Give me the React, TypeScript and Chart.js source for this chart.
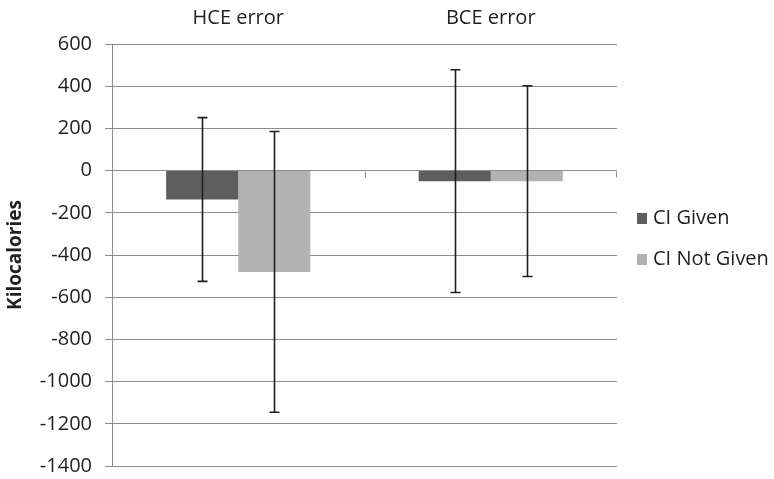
import React, { useEffect, useRef } from "react";
import { Chart, registerables } from "chart.js";

Chart.register(...registerables);

// Categories and series
const categories = ["HCE error", "BCE error"];
const seriesNames = ["CI Given", "CI Not Given"];
const ciGiven = [-137, -50];
const ciNotGiven = [-480, -50];
// Half-widths of the error bars (kcal)
const ciGivenError = [388, 528];
const ciNotGivenError = [665, 452];
const yMin = -1400;
const yMax = 600;
const yStep = 200;

const FONT = '"Open Sans", sans-serif';
const TEXT = "#1f1f1f";
const GRID = "#8c8c8c";
const COLORS = ["#5e5e5e", "#b2b2b2"];

const errorBarsPlugin = {
  id: "errorBars",
  afterDatasetsDraw(chart: any) {
    const { ctx, scales } = chart;
    const y = scales.y;
    const errs = [ciGivenError, ciNotGivenError];
    ctx.save();
    ctx.strokeStyle = "#1e1e1e";
    ctx.lineWidth = 1.6;
    chart.data.datasets.forEach((ds: any, di: number) => {
      const meta = chart.getDatasetMeta(di);
      meta.data.forEach((el: any, i: number) => {
        const v = ds.data[i];
        const e = errs[di][i];
        const top = y.getPixelForValue(v + e);
        const bot = y.getPixelForValue(v - e);
        const x = Math.round(el.x) + 0.5;
        ctx.beginPath();
        ctx.moveTo(x, top);
        ctx.lineTo(x, bot);
        ctx.moveTo(x - 5, top);
        ctx.lineTo(x + 5, top);
        ctx.moveTo(x - 5, bot);
        ctx.lineTo(x + 5, bot);
        ctx.stroke();
      });
    });
    ctx.restore();
  },
  afterDraw(chart: any) {
    const { ctx, scales, chartArea } = chart;
    const x = scales.x;
    const y0 = Math.round(scales.y.getPixelForValue(0)) + 0.5;
    ctx.save();
    // category boundary ticks along the zero line
    ctx.strokeStyle = GRID;
    ctx.lineWidth = 1;
    ctx.beginPath();
    for (let i = 1; i <= categories.length; i++) {
      const px =
        i < categories.length
          ? Math.round((x.getPixelForValue(i - 1) + x.getPixelForValue(i)) / 2) + 0.5
          : Math.round(chartArea.right) - 0.5;
      ctx.moveTo(px, y0);
      ctx.lineTo(px, y0 + 6);
    }
    ctx.stroke();

    // legend
    ctx.font = `20px ${FONT}`;
    ctx.textBaseline = "middle";
    ctx.textAlign = "left";
    const lx = chartArea.right + 20;
    const rows = [218.5, 259.5];
    chart.data.datasets.forEach((ds: any, i: number) => {
      ctx.fillStyle = ds.backgroundColor;
      ctx.fillRect(lx, rows[i] - 5.5, 10, 11);
      ctx.fillStyle = TEXT;
      ctx.fillText(ds.label, lx + 16, rows[i]);
    });
    ctx.restore();
  },
};

export default function App() {
  const canvasRef = useRef<HTMLCanvasElement | null>(null);

  useEffect(() => {
    if (!canvasRef.current) return;
    const chart = new Chart(canvasRef.current, {
      type: "bar",
      data: {
        labels: categories,
        datasets: [
          {
            label: seriesNames[0],
            data: ciGiven,
            backgroundColor: COLORS[0],
            borderWidth: 0,
            categoryPercentage: 0.571,
            barPercentage: 1,
          },
          {
            label: seriesNames[1],
            data: ciNotGiven,
            backgroundColor: COLORS[1],
            borderWidth: 0,
            categoryPercentage: 0.571,
            barPercentage: 1,
          },
        ],
      },
      options: {
        animation: false,
        responsive: true,
        maintainAspectRatio: false,
        layout: { padding: { left: 0, top: 0, right: 157, bottom: 13 } },
        plugins: {
          legend: { display: false },
          tooltip: { enabled: false },
        },
        scales: {
          x: {
            position: "top",
            grid: { display: false, drawTicks: false },
            border: { display: false },
            ticks: {
              font: { family: FONT, size: 20 },
              color: TEXT,
              padding: 14,
            },
            afterFit: (s: any) => {
              s.height = 44;
              s.paddingLeft = 0;
              s.paddingRight = 0;
            },
          },
          y: {
            min: yMin,
            max: yMax,
            grid: { color: GRID, lineWidth: 1, tickLength: 7 },
            border: { display: true, color: GRID, width: 1 },
            ticks: {
              stepSize: yStep,
              font: { family: FONT, size: 20 },
              color: TEXT,
              padding: 13,
              callback: (v: any) => String(v),
            },
            title: {
              display: true,
              text: "Kilocalories",
              font: { family: FONT, size: 19, weight: "bold" },
              color: TEXT,
              padding: { top: 4, bottom: 0 },
            },
            afterFit: (s: any) => {
              s.width = 112;
              s.paddingTop = 0;
              s.paddingBottom = 0;
            },
          },
        },
      },
      plugins: [errorBarsPlugin],
    });
    return () => chart.destroy();
  }, []);

  return (
    <div
      style={{
        position: "absolute",
        left: 0,
        top: 0,
        width: 774,
        height: 479,
        background: "#fff",
      }}
    >
      <canvas ref={canvasRef} />
    </div>
  );
}
